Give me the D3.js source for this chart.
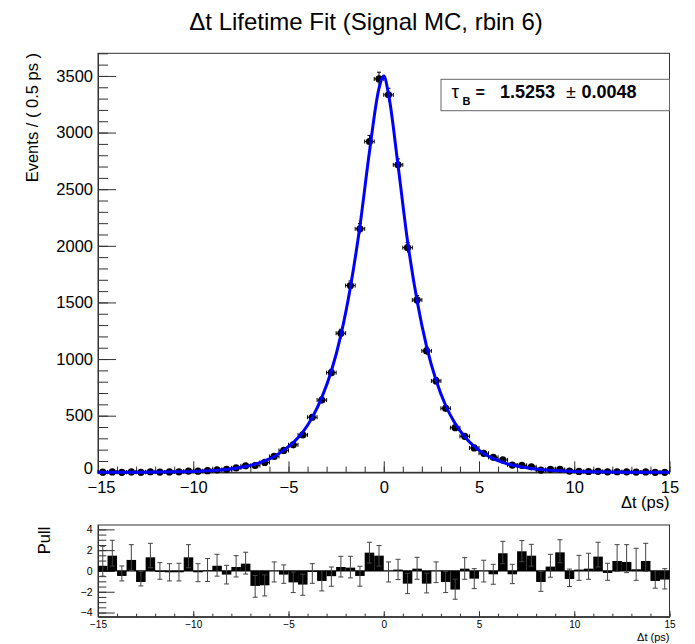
<!DOCTYPE html>
<html>
<head>
<meta charset="utf-8">
<script src="https://cdn.jsdelivr.net/npm/d3@7"></script>
<style>
  body { margin: 0; background: #fff; }
  svg { font-family: "Liberation Sans", Arial, Helvetica, sans-serif; }
</style>
</head>
<body>
<svg id="svg_fit" width="695" height="644"></svg>
<script>
// bin centres of the 0.5 ps bins
const binCenters = [-14.75, -14.25, -13.75, -13.25, -12.75, -12.25, -11.75, -11.25, -10.75, -10.25,
  -9.75, -9.25, -8.75, -8.25, -7.75, -7.25, -6.75, -6.25, -5.75, -5.25,
  -4.75, -4.25, -3.75, -3.25, -2.75, -2.25, -1.75, -1.25, -0.75, -0.25,
  0.25, 0.75, 1.25, 1.75, 2.25, 2.75, 3.25, 3.75, 4.25, 4.75,
  5.25, 5.75, 6.25, 6.75, 7.25, 7.75, 8.25, 8.75, 9.25, 9.75,
  10.25, 10.75, 11.25, 11.75, 12.25, 12.75, 13.25, 13.75, 14.25, 14.75]

const events = [1, 3, 0, 3, 0, 5, 2, 3, 4, 11,
  10, 14, 21, 25, 39, 57, 60, 87, 140, 193,
  243, 330, 486, 638, 880, 1228, 1649, 2150, 2921, 3474,
  3333, 2715, 1984, 1522, 1072, 807, 565, 394, 318, 215,
  168, 132, 109, 64, 62, 48, 20, 26, 26, 11,
  8, 7, 9, 4, 5, 4, 2, 3, 0, 0]

// fit curve
const curveT = [-15, -14.75, -13.75, -12.75, -11.75, -10.75, -9.75, -8.75, -7.75, -7.25,
  -6.75, -6.25, -5.75, -5.25, -4.75, -4.25, -3.75, -3.25, -2.75, -2.25,
  -1.75, -1.25, -0.75, -0.25, 0, 0.25, 0.75, 1.25, 1.75, 2.25,
  2.75, 3.25, 3.75, 4.25, 4.75, 5.25, 5.75, 6.25, 6.75, 7.25,
  7.75, 8.25, 8.75, 9.75, 10.75, 11.75, 12.75, 13.75, 14.75, 15]
const curveVal = [0.25, 0.3, 0.6, 1.2, 2.4, 4.8, 9.5, 18.5, 36, 51,
  72, 100, 140, 196, 262, 355, 485, 662, 895, 1212,
  1635, 2175, 2830, 3390, 3500, 3340, 2710, 2040, 1515, 1110,
  810, 590, 430, 314, 228, 166, 121, 88, 64, 47,
  34, 25, 18, 9.5, 5, 2.6, 1.3, 0.7, 0.35, 0.3]

const pulls = [0.48, 1.47, -0.48, 1.06, -1.06, 1.31, -0.1, -0.13, -0.13, 1.31,
  -0.13, 0.05, 0.5, -0.35, 0.38, 0.7, -1.44, -1.38, 0.0, -0.35,
  -1.1, -1.31, -0.1, -0.96, -0.5, 0.38, 0.32, -0.48, 1.76, 1.47,
  0.0, 0.13, -1.22, 0.22, -1.22, 0.0, -1.06, -1.79, 0.22, -0.74,
  0.0, -0.32, 1.7, -0.32, 1.89, 1.47, -1.06, 0.42, 1.79, -0.77,
  0.13, 0.22, 1.38, -0.19, 0.96, 0.87, 0.16, 0.96, -0.96, -0.83]
const pullErrHi = [1.89, 1.48, 0.96, 1.47, 1.0, 1.35, 0.9, 0.83, 0.87, 1.22,
  0.83, 1.15, 1.1, 0.89, 1.09, 1.1, 1.0, 1.0, 0.87, 0.93,
  1.0, 1.0, 0.8, 1.0, 0.88, 1.03, 1.09, 0.93, 1.0, 0.97,
  0.87, 0.99, 1.0, 1.09, 1.0, 0.87, 1.0, 1.0, 1.06, 0.96,
  1.03, 0.96, 1.15, 0.96, 1.03, 1.09, 1.0, 1.18, 1.21, 0.95,
  1.37, 1.48, 1.38, 0.93, 1.57, 1.66, 2.02, 1.7, 1.0, 1.05]
const pullErrLo = [0.98, 1.0, 0.48, 1.0, 0.38, 1.0, 0.7, 0.83, 0.83, 1.0,
  0.9, 1.06, 1.0, 0.9, 0.96, 1.0, 1.09, 1.02, 1.06, 0.84,
  0.98, 1.03, 1.09, 0.96, 0.97, 0.96, 0.99, 0.99, 1.0, 1.0,
  1.06, 0.96, 0.96, 1.02, 0.89, 1.12, 1.02, 0.93, 1.02, 0.96,
  1.06, 0.96, 1.0, 0.9, 1.0, 1.0, 0.9, 1.02, 1.0, 0.73,
  1.03, 1.02, 1.0, 0.71, 1.0, 1.03, 1.06, 1.0, 0.7, 0.9]

const xTicks = [-15, -10, -5, 0, 5, 10, 15]
const yTicks = [0, 500, 1000, 1500, 2000, 2500, 3000, 3500]
const pullTicks = [-4, -2, 0, 2, 4]
const binHalf = 0.25

const svg = d3.select('#svg_fit')
const axisColor = '#333'

const x = d3.scaleLinear().domain([-15, 15]).range([98, 669.5])
const y = d3.scaleLinear().domain([0, 3700]).range([472.3, 53.3])
const yp = d3.scaleLinear().domain([-4.4, 4.42]).range([616.7, 525])

// title
svg.append('text')
  .attr('x', 366).attr('y', 30)
  .attr('text-anchor', 'middle')
  .style('font-size', '24px')
  .text('Δt Lifetime Fit (Signal MC, rbin 6)')

// ---------- top panel ----------
const topPanel = svg.append('g')

topPanel.append('rect')
  .attr('x', x(-15)).attr('y', y(3700))
  .attr('width', x(15) - x(-15)).attr('height', y(0) - y(3700))
  .attr('fill', 'none').attr('stroke', axisColor)

const styleAxis = (g, size) => {
  g.select('.domain').attr('stroke', axisColor)
  g.selectAll('.tick line').attr('stroke', axisColor)
  g.selectAll('.tick text').style('font-size', size).attr('fill', '#000')
  g.attr('font-family', null)
}

topPanel.append('g')
  .attr('transform', `translate(0, ${y(0)})`)
  .call(d3.axisBottom(x).tickValues(d3.range(-15, 16, 1)).tickSize(-5.7).tickSizeOuter(0).tickFormat(''))
  .call(g => styleAxis(g, '16.5px'))
topPanel.append('g')
  .attr('transform', `translate(0, ${y(0)})`)
  .call(d3.axisBottom(x).tickValues(xTicks).tickSize(-11).tickSizeOuter(0).tickPadding(8.5))
  .call(g => styleAxis(g, '16.5px'))
  .call(g => g.selectAll('.tick text').filter(d => d === -15).attr('dx', 3))

topPanel.append('g')
  .attr('transform', `translate(${x(-15)}, 0)`)
  .call(d3.axisLeft(y).tickValues(d3.range(0, 3701, 100)).tickSize(-10).tickSizeOuter(0).tickFormat(''))
  .call(g => styleAxis(g, '16.5px'))
topPanel.append('g')
  .attr('transform', `translate(${x(-15)}, 0)`)
  .call(d3.axisLeft(y).tickValues(yTicks).tickSize(-18).tickSizeOuter(0).tickPadding(5).tickFormat(d3.format('d')))
  .call(g => styleAxis(g, '16.5px'))
  .call(g => g.selectAll('.tick text').filter(d => d === 0).attr('dy', '0.1em'))

topPanel.append('text')
  .attr('transform', 'translate(38, 53) rotate(-90)')
  .attr('text-anchor', 'end')
  .style('font-size', '16.5px')
  .text('Events / ( 0.5 ps )')

topPanel.append('text')
  .attr('x', 669.5).attr('y', 508)
  .attr('text-anchor', 'end')
  .style('font-size', '16.5px')
  .text('Δt (ps)')

// data points with error bars
const pts = topPanel.append('g')
  .selectAll('g')
  .data(binCenters.map((t, i) => ({ t, n: events[i] })))
  .enter()
  .append('g')

pts.append('line')
  .attr('x1', d => x(d.t - binHalf)).attr('x2', d => x(d.t + binHalf))
  .attr('y1', d => y(d.n)).attr('y2', d => y(d.n))
  .attr('stroke', '#000')
pts.append('line')
  .attr('x1', d => x(d.t)).attr('x2', d => x(d.t))
  .attr('y1', d => y(d.n + (d.n > 0 ? Math.sqrt(d.n) : 1.15)))
  .attr('y2', d => y(Math.max(0, d.n - Math.sqrt(d.n))))
  .attr('stroke', '#000')
pts.append('path')
  .attr('d', d => {
    const x0 = x(d.t - binHalf), x1 = x(d.t + binHalf), yy = y(d.n)
    return `M${x0},${yy - 2}V${yy + 2}M${x1},${yy - 2}V${yy + 2}`
  })
  .attr('stroke', '#000')
pts.append('path')
  .attr('d', d => {
    const xx = x(d.t)
    const yTop = y(d.n + (d.n > 0 ? Math.sqrt(d.n) : 1.15))
    return `M${xx - 2},${yTop}H${xx + 2}`
  })
  .attr('stroke', '#000')
pts.append('circle')
  .attr('cx', d => x(d.t)).attr('cy', d => y(d.n))
  .attr('r', 3.6)
  .attr('fill', '#000')

// fit curve
const line = d3.line()
  .x(d => x(d.t))
  .y(d => y(d.v))
  .curve(d3.curveMonotoneX)

topPanel.append('path')
  .datum(curveT.map((t, i) => ({ t, v: curveVal[i] })))
  .attr('d', line)
  .attr('fill', 'none')
  .attr('stroke', '#0000ff')
  .attr('stroke-width', 3)

// parameter box
const box = topPanel.append('g')
box.append('rect')
  .attr('x', 441).attr('y', 79.3)
  .attr('width', 669.5 - 441).attr('height', 31.4)
  .attr('fill', '#fff').attr('stroke', '#666')
box.append('text').attr('x', 451.5).attr('y', 98).style('font-size', '19px').text('τ')
box.append('text').attr('x', 462.5).attr('y', 104.5).style('font-size', '11px').style('font-weight', 'bold').text('B')
box.append('text').attr('x', 475.5).attr('y', 97.5).style('font-size', '16px').style('font-weight', 'bold').text('=')
box.append('text').attr('x', 500).attr('y', 97.5).style('font-size', '18px').style('font-weight', 'bold').text('1.5253')
box.append('text').attr('x', 566).attr('y', 97.5).style('font-size', '18px').text('±')
box.append('text').attr('x', 581.5).attr('y', 97.5).style('font-size', '18px').style('font-weight', 'bold').text('0.0048')

// ---------- pull panel ----------
const pullPanel = svg.append('g')

pullPanel.append('rect')
  .attr('x', x(-15)).attr('y', yp(4.42))
  .attr('width', x(15) - x(-15)).attr('height', yp(-4.4) - yp(4.42))
  .attr('fill', 'none').attr('stroke', axisColor)

pullPanel.append('g')
  .attr('transform', `translate(0, ${yp(-4.4)})`)
  .call(d3.axisBottom(x).tickValues(d3.range(-15, 16, 1)).tickSize(-3).tickSizeOuter(0).tickFormat(''))
  .call(g => styleAxis(g, '10px'))
pullPanel.append('g')
  .attr('transform', `translate(0, ${yp(-4.4)})`)
  .call(d3.axisBottom(x).tickValues(xTicks).tickSize(-5.5).tickSizeOuter(0).tickPadding(4))
  .call(g => styleAxis(g, '10px'))

pullPanel.append('g')
  .attr('transform', `translate(${x(-15)}, 0)`)
  .call(d3.axisLeft(yp).tickValues(d3.range(-4, 4.01, 0.5)).tickSize(-8.3).tickSizeOuter(0).tickFormat(''))
  .call(g => styleAxis(g, '10px'))
pullPanel.append('g')
  .attr('transform', `translate(${x(-15)}, 0)`)
  .call(d3.axisLeft(yp).tickValues(pullTicks).tickSize(-16.7).tickSizeOuter(0).tickPadding(5.5))
  .call(g => styleAxis(g, '10.5px'))

pullPanel.append('text')
  .attr('transform', 'translate(50, 526.7) rotate(-90)')
  .attr('text-anchor', 'end')
  .style('font-size', '16.5px')
  .text('Pull')

pullPanel.append('text')
  .attr('x', 669.5).attr('y', 641)
  .attr('text-anchor', 'end')
  .style('font-size', '11px')
  .text('Δt (ps)')

const pullData = binCenters.map((t, i) => ({ t, p: pulls[i], hi: pullErrHi[i], lo: pullErrLo[i] }))

pullPanel.append('g')
  .selectAll('rect')
  .data(pullData)
  .enter()
  .append('rect')
  .attr('x', d => x(d.t - binHalf))
  .attr('width', d => x(d.t + binHalf) - x(d.t - binHalf))
  .attr('y', d => Math.min(yp(d.p), yp(0)))
  .attr('height', d => Math.abs(yp(d.p) - yp(0)))
  .attr('fill', '#000')

pullPanel.append('line')
  .attr('x1', x(-15)).attr('x2', x(15))
  .attr('y1', yp(0)).attr('y2', yp(0))
  .attr('stroke', '#000').attr('stroke-width', 1.2)

pullPanel.append('g')
  .selectAll('path')
  .data(pullData)
  .enter()
  .append('path')
  .attr('d', d => {
    const xx = x(d.t), y1 = yp(d.p + d.hi), y0 = yp(d.p - d.lo)
    return `M${xx},${y1}V${y0}M${xx - 2.5},${y1}H${xx + 2.5}M${xx - 2.5},${y0}H${xx + 2.5}`
  })
  .attr('fill', 'none')
  .attr('stroke', '#444')
</script>
</body>
</html>
